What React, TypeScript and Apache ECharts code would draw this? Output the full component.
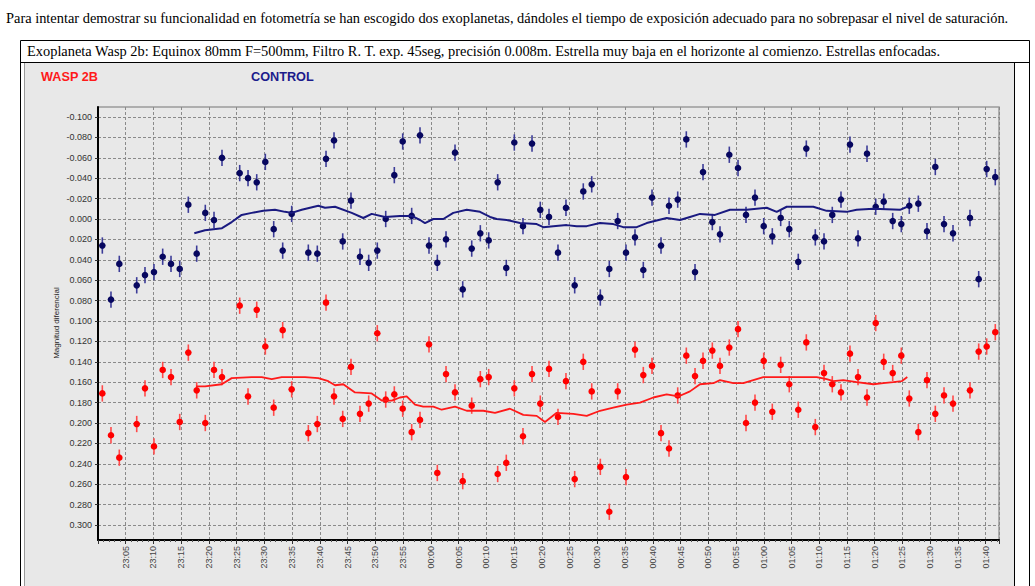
import React, { useEffect, useRef } from "react";
import * as echarts from "echarts";

// Minutes after 23:00 for each frame
const frameMinutes = [
  0.78, 2.34, 3.84, 6.98, 8.47, 10.09, 11.66, 13.16, 14.73, 16.28, 17.79, 19.34, 20.91, 22.35,
  25.54, 27.04, 28.61, 30.16, 31.67, 33.29, 34.91, 37.91, 39.53, 41.1, 42.54, 44.11, 45.6,
  47.22, 48.79, 50.34, 51.86, 53.41, 54.92,
  56.54, 58.04, 59.66, 61.16, 62.73, 64.35, 65.74, 67.36, 68.91, 70.42, 72.04, 73.59, 75.04,
  76.6, 78.23, 79.72, 81.29, 82.91, 84.35, 85.92, 87.47, 88.99, 90.54, 92.16, 93.67, 95.17,
  96.79, 98.29, 99.86, 101.48, 102.92, 104.49, 106.04, 107.61, 109.05, 110.73, 112.11,
  113.79, 115.36, 116.8, 118.42, 119.99, 121.54, 123.05, 124.6, 126.22, 127.67, 129.29,
  130.86, 132.35, 133.92, 135.54, 136.99, 138.61, 140.18, 141.62, 143.24, 144.79, 146.23,
  147.86, 149.42, 150.92, 152.49, 154.11, 157.17, 158.74, 160.18, 161.73,
];

const controlMag = [
  0.026, 0.079, 0.044, 0.065, 0.055, 0.052, 0.037, 0.044, 0.049, -0.014, 0.034, -0.006, 0.001,
  -0.06, -0.045, -0.04, -0.036, -0.056, 0.01, 0.031, -0.005, 0.033, 0.034, -0.059, -0.077,
  0.022, -0.018, 0.037, 0.043, 0.031, 0.0, -0.043, -0.076,
  -0.003, -0.082, 0.026, 0.043, 0.02, -0.065, 0.069, 0.029, 0.014, 0.021, -0.036, 0.048,
  -0.075, 0.007, -0.074, -0.009, -0.002, 0.033, -0.011, 0.065, -0.027, -0.034, 0.077, 0.049,
  0.002, 0.033, 0.018, 0.05, -0.021, 0.026, -0.013, -0.019, -0.078, 0.052, -0.046, 0.003,
  0.015,
  -0.063, -0.05, -0.004, -0.021, 0.007, 0.017, -0.001, 0.01, 0.042, -0.069, 0.018, 0.022,
  -0.004, -0.019, -0.073, 0.019, -0.064, -0.012, -0.017, 0.002, 0.005, -0.013, -0.015, 0.012,
  -0.051, 0.005, 0.014, -0.001, 0.059, -0.049, -0.041,
];

const waspMag = [
  0.171, 0.212, 0.234, 0.201, 0.166, 0.223, 0.148, 0.155, 0.199, 0.131, 0.168, 0.2, 0.148,
  0.155, 0.085, 0.174, 0.089, 0.125, 0.185, 0.109, 0.167, 0.21, 0.201, 0.082, 0.174, 0.196,
  0.145, 0.191, 0.181, 0.112, 0.177, 0.172, 0.186,
  0.209, 0.197, 0.123, 0.249, 0.152, 0.17, 0.257, 0.183, 0.157, 0.155, 0.25, 0.239, 0.166,
  0.213, 0.152, 0.181, 0.147, 0.194, 0.159, 0.255, 0.14, 0.169, 0.243, 0.287, 0.169, 0.253,
  0.128, 0.153, 0.144, 0.21, 0.225, 0.173, 0.134, 0.154, 0.139, 0.129, 0.144,
  0.126, 0.108, 0.2, 0.18, 0.139, 0.189, 0.143, 0.162, 0.187, 0.121, 0.204, 0.151, 0.162,
  0.17, 0.132, 0.155, 0.175, 0.102, 0.14, 0.151, 0.134, 0.176, 0.209, 0.158, 0.191, 0.173,
  0.181, 0.168, 0.13, 0.125, 0.111,
];

// Running means
const controlAvgMinutes = [
  17.36, 19.29, 22.35, 24.1, 25.9, 27.7, 29.79, 31.9, 33.71, 34.91, 36.72, 39.71, 40.92, 42.72,
  45.73, 47.82, 49.33, 51.73, 54.43, 56.54, 58.04, 58.94, 60.44, 62.24, 64.04, 66.46, 68.85,
  70.66, 71.86, 73.67, 76.06, 79.07, 80.26, 82.06, 84.48, 86.28, 88.09, 90.48, 92.88, 94.68,
  97.1, 98.9, 102.5, 104.9, 106.7, 108.51, 111.21, 113.91, 116.93, 120.53, 122.33, 124.13,
  126.53, 128.93, 131.34, 134.95, 136.75, 139.74, 144.55, 145.87,
];
const controlAvg = [
  0.014, 0.011, 0.009, 0.003, -0.004, -0.006, -0.008, -0.009, -0.007, -0.006, -0.009, -0.013,
  -0.011, -0.012, -0.006, -0.001, -0.005, -0.002, -0.003, -0.003, 0.001, 0.004, 0.0, 0.0,
  -0.006, -0.009, -0.007, -0.002, 0.0, 0.001, 0.004, 0.005, 0.008, 0.007, 0.006, 0.007, 0.007,
  0.004, 0.005, 0.008, 0.008, 0.004, -0.001, 0.001, -0.002, -0.005, -0.004, -0.009, -0.009,
  -0.011, -0.007, -0.012, -0.012, -0.012, -0.008, -0.007, -0.009, -0.01, -0.009, -0.012,
];

const waspAvgMinutes = [
  17.66, 19.29, 22.3, 24.1, 27.7, 29.51, 31.31, 33.11, 34.91, 37.31, 39.71, 41.51, 42.72, 44.21,
  46.32, 49.33, 51.14, 52.94, 54.43, 55.64, 57.14, 58.63, 60.44, 61.95, 64.35, 66.46, 69.45,
  71.56, 74.26, 76.66, 79.07, 80.57, 82.68, 85.67, 88.09, 90.48, 92.88, 95.3, 97.69, 100.09,
  102.5, 104.6, 106.7, 108.51, 110.91, 112.11, 114.51, 116.31, 118.11, 119.92, 122.33, 124.73,
  126.53, 129.54, 131.34, 132.54, 134.34, 136.75, 139.74, 141.55, 143.35, 144.86, 145.87,
];
const waspAvg = [
  0.164, 0.164, 0.162, 0.156, 0.155, 0.155, 0.157, 0.155, 0.155, 0.155, 0.156, 0.159, 0.163,
  0.162, 0.17, 0.171, 0.178, 0.178, 0.175, 0.174, 0.182, 0.184, 0.184, 0.187, 0.184, 0.188,
  0.188, 0.19, 0.186, 0.192, 0.193, 0.199, 0.19, 0.191, 0.193, 0.188, 0.185, 0.182, 0.18,
  0.175, 0.172, 0.174, 0.169, 0.162, 0.161, 0.158, 0.161, 0.161, 0.158, 0.155, 0.155, 0.155,
  0.155, 0.155, 0.157, 0.159, 0.158, 0.16, 0.162, 0.161, 0.16, 0.159, 0.155,
];

const MAG_ERROR = 0.008;
const PAGE_TEXT =
  "Para intentar demostrar su funcionalidad en fotometría se han escogido dos exoplanetas, dándoles el tiempo de exposición adecuado para no sobrepasar el nivel de saturación.";
const TITLE_TEXT =
  "Exoplaneta Wasp 2b: Equinox 80mm F=500mm, Filtro R. T. exp. 45seg, precisión 0.008m. Estrella muy baja en el horizonte al comienzo. Estrellas enfocadas.";
const WASP_LABEL = "WASP 2B";
const CONTROL_LABEL = "CONTROL";
const Y_NAME = "Magnitud diferencial";

const minutesToClock = (m: number) => {
  const total = Math.round(23 * 60 + m);
  const hh = Math.floor(total / 60) % 24;
  const mm = total % 60;
  return `${String(hh).padStart(2, "0")}:${String(mm).padStart(2, "0")}`;
};

const errorSeries = (times: number[], vals: number[], dot: string, bar: string) => ({
  type: "custom",
  xAxisIndex: 1,
  yAxisIndex: 1,
  z: 5,
  clip: false,
  data: times.map((t, i) => [t, vals[i]]),
  renderItem: (_p: any, api: any) => {
    const x = api.value(0);
    const y = api.value(1);
    const c = api.coord([x, y]);
    const a = api.coord([x, y - MAG_ERROR]);
    const b = api.coord([x, y + MAG_ERROR]);
    return {
      type: "group",
      children: [
        {
          type: "line",
          shape: { x1: c[0], y1: a[1], x2: c[0], y2: b[1] },
          style: { stroke: bar, lineWidth: 1.6 },
        },
        { type: "circle", shape: { cx: c[0], cy: c[1], r: 3.3 }, style: { fill: dot } },
      ],
    };
  },
});

export default function App() {
  const ref = useRef<HTMLDivElement>(null);
  useEffect(() => {
    if (!ref.current) return;
    const chart = echarts.init(ref.current, null, { renderer: "svg" });
    const X_MIN = 0;
    const X_MAX = 162.4;
    const dash = { color: "#8a8a8a", type: [3, 2] as any, width: 1 };
    const serif = '14.4px "Liberation Serif", "Times New Roman", serif';
    chart.setOption({
      animation: false,
      backgroundColor: "#e8e8e8",
      grid: [
        {
          left: 98,
          top: 107,
          width: 901,
          height: 433,
          show: true,
          borderColor: "#9a9a9a",
          borderWidth: 1.5,
          backgroundColor: "transparent",
        },
        { left: 98, top: 117, width: 901, height: 408 },
      ],
      xAxis: [
        {
          type: "value",
          gridIndex: 0,
          min: X_MIN,
          max: X_MAX,
          interval: 5,
          axisLine: { show: true, onZero: false, lineStyle: { color: "#000", width: 2 } },
          axisTick: { show: true, length: 4, lineStyle: { color: "#333" } },
          minorTick: { show: true, splitNumber: 5, length: 2, lineStyle: { color: "#555" } },
          axisLabel: {
            rotate: 90,
            margin: 6,
            fontSize: 9,
            fontFamily: "Liberation Sans, Arial, sans-serif",
            color: "#444",
            showMaxLabel: false,
            showMinLabel: false,
            formatter: (v: number) =>
              v < 1 || Math.abs(v / 5 - Math.round(v / 5)) > 1e-6 ? "" : minutesToClock(v),
          },
          splitLine: { show: true, lineStyle: dash },
        },
        { type: "value", gridIndex: 1, min: X_MIN, max: X_MAX, show: false },
      ],
      yAxis: [
        {
          type: "value",
          gridIndex: 0,
          min: 0,
          max: 1,
          axisLine: { show: true, onZero: false, lineStyle: { color: "#000", width: 2 } },
          axisTick: { show: false },
          axisLabel: { show: false },
          splitLine: { show: false },
        },
        {
          type: "value",
          gridIndex: 1,
          inverse: true,
          min: -0.1,
          max: 0.3,
          interval: 0.02,
          axisLine: { show: false },
          axisTick: { show: true, length: 3, lineStyle: { color: "#333" } },
          axisLabel: {
            margin: 6,
            fontSize: 9,
            fontFamily: "Liberation Sans, Arial, sans-serif",
            color: "#333",
            formatter: (v: number) => (Math.abs(v) < 1e-9 ? 0 : v).toFixed(3),
          },
          splitLine: { show: true, lineStyle: dash },
        },
      ],
      graphic: [
        { type: "rect", shape: { x: 0, y: 0, width: 1035, height: 63 }, style: { fill: "#fff" } },
        { type: "rect", shape: { x: 0, y: 0, width: 24, height: 586 }, style: { fill: "#fff" } },
        { type: "rect", shape: { x: 1014, y: 0, width: 21, height: 586 }, style: { fill: "#fff" } },
        {
          type: "text",
          x: 6,
          y: 18,
          style: { text: PAGE_TEXT, fill: "#000", font: serif, textVerticalAlign: "middle" },
        },
        {
          type: "rect",
          shape: { x: 20.5, y: 40.5, width: 1009, height: 560 },
          style: { fill: "none", stroke: "#000", lineWidth: 1 },
        },
        {
          type: "line",
          shape: { x1: 20, y1: 62.5, x2: 1030, y2: 62.5 },
          style: { stroke: "#000", lineWidth: 1 },
        },
        {
          type: "line",
          shape: { x1: 1014.5, y1: 62, x2: 1014.5, y2: 586 },
          style: { stroke: "#000", lineWidth: 1 },
        },
        {
          type: "line",
          shape: { x1: 24.5, y1: 63, x2: 24.5, y2: 586 },
          style: { stroke: "#999", lineWidth: 1 },
        },
        {
          type: "text",
          x: 27,
          y: 51,
          style: { text: TITLE_TEXT, fill: "#000", font: serif, textVerticalAlign: "middle" },
        },
        {
          type: "text",
          x: 41,
          y: 76.5,
          style: {
            text: WASP_LABEL,
            fill: "#ff1a1a",
            font: 'bold 12.7px "Liberation Sans", Arial, sans-serif',
            textVerticalAlign: "middle",
          },
        },
        {
          type: "text",
          x: 251,
          y: 76.5,
          style: {
            text: CONTROL_LABEL,
            fill: "#1c1c8c",
            font: 'bold 12.7px "Liberation Sans", Arial, sans-serif',
            textVerticalAlign: "middle",
          },
        },
        {
          type: "text",
          x: 56,
          y: 323,
          rotation: Math.PI / 2,
          style: {
            text: Y_NAME,
            fill: "#222",
            font: '8px "Liberation Sans", Arial, sans-serif',
            textAlign: "center",
            textVerticalAlign: "middle",
          },
        },
      ],
      series: [
        errorSeries(frameMinutes, controlMag, "#07075f", "#3c3c98"),
        errorSeries(frameMinutes, waspMag, "#ff0000", "#ff4a4a"),
        {
          type: "line",
          xAxisIndex: 1,
          yAxisIndex: 1,
          z: 6,
          showSymbol: false,
          data: controlAvgMinutes.map((t, i) => [t, controlAvg[i]]),
          lineStyle: { color: "#1a1a80", width: 2 },
        },
        {
          type: "line",
          xAxisIndex: 1,
          yAxisIndex: 1,
          z: 6,
          showSymbol: false,
          data: waspAvgMinutes.map((t, i) => [t, waspAvg[i]]),
          lineStyle: { color: "#ff1a1a", width: 1.8 },
        },
      ],
    });
    return () => chart.dispose();
  }, []);
  return (
    <div
      ref={ref}
      style={{ position: "absolute", left: 0, top: 0, width: 1035, height: 586 }}
    />
  );
}
